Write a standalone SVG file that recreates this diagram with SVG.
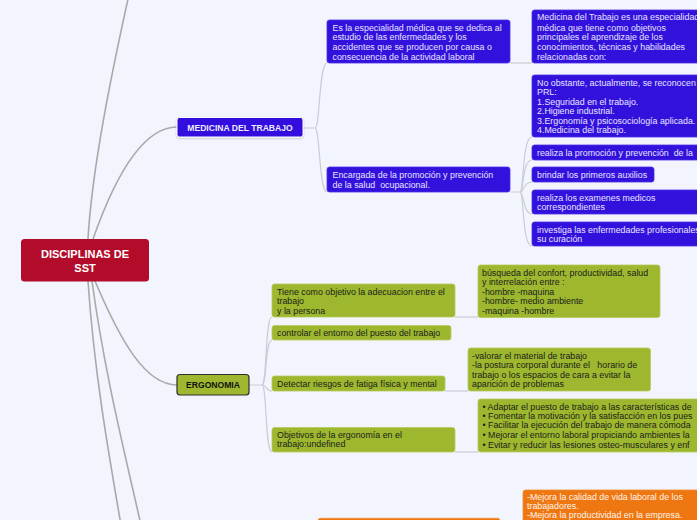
<svg xmlns="http://www.w3.org/2000/svg" width="697" height="520" viewBox="0 0 697 520">
<defs>
<style>
text{font-family:"Liberation Sans",Arial,sans-serif;font-size:8.85px;white-space:pre}
.bl{fill:#3311dd;stroke:#4a2ee6;stroke-width:0.8}
.gr{fill:#9db82e;stroke:#b4c95a;stroke-width:0.8}
.or{fill:#ee7711;stroke:#f08a33;stroke-width:0.8}
.tb{fill:#e6e4ff}
.tg{fill:#1c1c1c}
.to{fill:#fff4ea}
.main{fill:none;stroke:#a9a9a9;stroke-width:1.6}
.sub{fill:none;stroke:#c9ccd2;stroke-width:1.2}
</style>
<filter id="sh" x="-10%" y="-20%" width="120%" height="150%">
<feDropShadow dx="0" dy="1" stdDeviation="1" flood-color="#000" flood-opacity="0.2"/>
</filter>
</defs>
<rect width="697" height="520" fill="#f2f5fe"/>
<g id="connectors">
<path class="main" d="M88,239 C92,170 110,80 130,-10"/>
<path class="main" d="M93,239 C112,185 140,127 177,127"/>
<path class="main" d="M95,281 C120,340 145,385 177,385"/>
<path class="main" d="M88,281 C94,370 108,450 121,525"/>
<path class="main" d="M92,281 C104,370 124,450 141,525"/>
<path class="sub" d="M303,128 L315,128 C320,128 319,63 327,63 L327,63"/>
<path class="sub" d="M315,128 C320,128 319,192 327,192"/>
<path class="sub" d="M510,63 L532,63"/>
<path class="sub" d="M510,192 L520,192 C524,192 522,137 532,137"/>
<path class="sub" d="M520,192 C524,192 522,160 532,160"/>
<path class="sub" d="M520,192 C524,192 523,182 532,182"/>
<path class="sub" d="M520,192 C524,192 523,214 532,214"/>
<path class="sub" d="M520,192 C524,192 522,246 532,246"/>
<path class="sub" d="M249,385 L262,385 C267,385 265,317 272,317"/>
<path class="sub" d="M262,385 C267,385 265,340 272,340"/>
<path class="sub" d="M262,385 C267,385 266,391 272,391"/>
<path class="sub" d="M262,385 C267,385 265,452 272,452"/>
<path class="sub" d="M455,317 L478,317"/>
<path class="sub" d="M445,391 L468,391"/>
<path class="sub" d="M455,452 L478,452"/>
</g>
<g id="central">
<rect x="21" y="239" width="128" height="42.5" rx="3.5" fill="#b30c2a"/>
<text x="85" y="258.3" text-anchor="middle" style="font-size:11px;font-weight:bold;fill:#fff">DISCIPLINAS DE</text>
<text x="85" y="272.3" text-anchor="middle" style="font-size:11px;font-weight:bold;fill:#fff">SST</text>
</g>
<g id="medicina">
<rect x="177" y="117.5" width="126" height="19.5" rx="2.5" fill="#3311dd" stroke="#ffffff" stroke-width="1" filter="url(#sh)"/>
<text x="240" y="130.8" text-anchor="middle" style="font-size:8.6px;font-weight:bold;fill:#ecebff">MEDICINA DEL TRABAJO</text>
</g>
<g id="med-especialidad">
<rect class="bl" x="327" y="20" width="183" height="43" rx="2.5"/>
<text class="tb" x="332.5" y="30.5">Es la especialidad médica que se dedica al</text>
<text class="tb" x="332.5" y="40.2">estudio de las enfermedades y los</text>
<text class="tb" x="332.5" y="49.9">accidentes que se producen por causa o</text>
<text class="tb" x="332.5" y="59.6">consecuencia de la actividad laboral</text>
</g>
<g id="med-definicion">
<rect class="bl" x="532" y="10" width="180" height="53" rx="2.5"/>
<text class="tb" x="537" y="20.2">Medicina del Trabajo es una especialidad</text>
<text class="tb" x="537" y="30.5">médica que tiene como objetivos</text>
<text class="tb" x="537" y="40.2">principales el aprendizaje de los</text>
<text class="tb" x="537" y="49.9">conocimientos, técnicas y habilidades</text>
<text class="tb" x="537" y="59.6">relacionadas con:</text>
</g>
<g id="med-encargada">
<rect class="bl" x="327" y="167" width="183" height="25" rx="2.5"/>
<text class="tb" x="332.5" y="177.8">Encargada de la promoción y prevención</text>
<text class="tb" x="332.5" y="187.6">de la salud  ocupacional.</text>
</g>
<g id="med-prl">
<rect class="bl" x="532" y="75" width="180" height="62" rx="2.5"/>
<text class="tb" x="537" y="85.5">No obstante, actualmente, se reconocen</text>
<text class="tb" x="537" y="95">PRL:</text>
<text class="tb" x="537" y="104.5">1.Seguridad en el trabajo.</text>
<text class="tb" x="537" y="114">2.Higiene industrial.</text>
<text class="tb" x="537" y="123.5">3.Ergonomía y psicosociología aplicada.</text>
<text class="tb" x="537" y="133">4.Medicina del trabajo.</text>
</g>
<g id="med-promocion">
<rect class="bl" x="532" y="145" width="180" height="15" rx="2.5"/>
<text class="tb" x="537" y="156">realiza la promoción y prevención  de la</text>
</g>
<g id="med-auxilios">
<rect class="bl" x="532" y="167" width="122" height="15" rx="2.5"/>
<text class="tb" x="537" y="177.8">brindar los primeros auxilios</text>
</g>
<g id="med-examenes">
<rect class="bl" x="532" y="190" width="180" height="24" rx="2.5"/>
<text class="tb" x="537" y="201">realiza los examenes medicos</text>
<text class="tb" x="537" y="209.7">correspondientes</text>
</g>
<g id="med-investiga">
<rect class="bl" x="532" y="222" width="180" height="24" rx="2.5"/>
<text class="tb" x="537" y="232.8">investiga las enfermedades profesionales</text>
<text class="tb" x="537" y="241.8">su curación</text>
</g>
<g id="ergonomia">
<rect x="177" y="374.5" width="72" height="20.5" rx="3" fill="#9db82e" stroke="#2e2e2e" stroke-width="1.2"/>
<text x="213" y="388" text-anchor="middle" style="font-size:8.6px;font-weight:bold;fill:#111">ERGONOMIA</text>
</g>
<g id="erg-objetivo">
<rect class="gr" x="272" y="284" width="183" height="33" rx="2.5"/>
<text class="tg" x="277" y="295">Tiene como objetivo la adecuacion entre el</text>
<text class="tg" x="277" y="304.3">trabajo</text>
<text class="tg" x="277" y="313.8">y la persona</text>
</g>
<g id="erg-busqueda">
<rect class="gr" x="478" y="265" width="182" height="52.5" rx="2.5"/>
<text class="tg" x="482" y="276">búsqueda del confort, productividad, salud</text>
<text class="tg" x="482" y="285.4">y interrelación entre :</text>
<text class="tg" x="482" y="295">-hombre -maquina</text>
<text class="tg" x="482" y="304">-hombre- medio ambiente</text>
<text class="tg" x="482" y="313.8">-maquina -hombre</text>
</g>
<g id="erg-entorno">
<rect class="gr" x="272" y="325.5" width="179" height="14.5" rx="2.5"/>
<text class="tg" x="277" y="335.6">controlar el entorno del puesto del trabajo</text>
</g>
<g id="erg-riesgos">
<rect class="gr" x="272" y="376" width="173" height="15" rx="2.5"/>
<text class="tg" x="277" y="386.7">Detectar riesgos de fatiga física y mental</text>
</g>
<g id="erg-valorar">
<rect class="gr" x="468" y="348" width="182.5" height="43" rx="2.5"/>
<text class="tg" x="472" y="358.8">-valorar el material de trabajo</text>
<text class="tg" x="472" y="367.9">-la postura corporal durante el   horario de</text>
<text class="tg" x="472" y="377.8">trabajo o los espacios de cara a evitar la</text>
<text class="tg" x="472" y="386.8">aparición de problemas</text>
</g>
<g id="erg-objetivos">
<rect class="gr" x="272" y="427.5" width="183" height="24.5" rx="2.5"/>
<text class="tg" x="277" y="437.9">Objetivos de la ergonomía en el</text>
<text class="tg" x="277" y="447.2">trabajo:undefined</text>
</g>
<g id="erg-lista">
<rect class="gr" x="478" y="399" width="230" height="53" rx="2.5"/>
<text class="tg" x="482.5" y="409.5">• Adaptar el puesto de trabajo a las características de</text>
<text class="tg" x="482.5" y="418.6">• Fomentar la motivación y la satisfacción en los pues</text>
<text class="tg" x="482.5" y="428.4">• Facilitar la ejecución del trabajo de manera cómoda</text>
<text class="tg" x="482.5" y="437.8">• Mejorar el entorno laboral propiciando ambientes la</text>
<text class="tg" x="482.5" y="447.7">• Evitar y reducir las lesiones osteo-musculares y enf</text>
</g>
<g id="orange-mejora">
<rect class="or" x="523" y="490" width="190" height="40" rx="2.5"/>
<text class="to" x="527" y="500">-Mejora la calidad de vida laboral de los</text>
<text class="to" x="527" y="508.8">trabajadores.</text>
<text class="to" x="527" y="517.8">-Mejora la productividad en la empresa.</text>
</g>
<g id="orange-node">
<rect class="or" x="318" y="518.3" width="182" height="10" rx="2.5"/>
</g>
</svg>
